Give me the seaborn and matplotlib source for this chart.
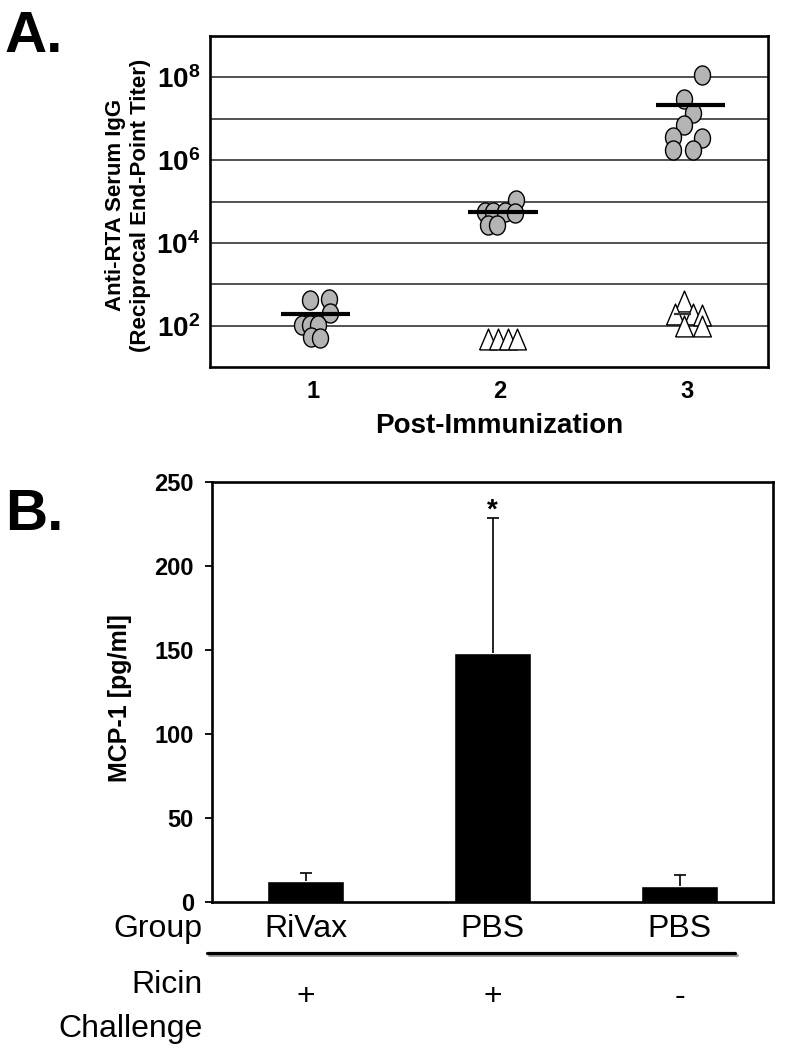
import numpy as np
import pandas as pd
import matplotlib
matplotlib.use('Agg')
import matplotlib.pyplot as plt
import matplotlib.transforms as mtransforms
from matplotlib.lines import Line2D
from matplotlib.ticker import NullLocator
import seaborn as sns

# ---- Panel A: anti-RTA serum IgG titers ----
rivax_titer_1 = [420, 450, 200, 105, 105, 105, 54, 50]
rivax_titer_2 = [110000, 56000, 56000, 56000, 52000, 27000, 27000]
rivax_titer_3 = [1.15e8, 3.0e7, 1.4e7, 7.1e6, 3.6e6, 3.5e6, 1.8e6, 1.8e6]
pbs_titer_2 = [48, 48, 48, 48]
pbs_titer_3 = [400, 195, 195, 180, 100, 100]

# horizontal spread of the symbols inside each column (fraction of one category)
rivax_spread_1 = [-0.016, 0.085, 0.091, -0.059, -0.016, 0.027, -0.011, 0.037]
rivax_spread_2 = [0.085, -0.080, -0.037, 0.027, 0.080, -0.064, -0.016]
rivax_spread_3 = [0.075, -0.021, 0.027, -0.021, -0.075, 0.075, -0.075, 0.027]
pbs_spread_2 = [-0.064, -0.011, 0.043, 0.091]
pbs_spread_3 = [-0.016, -0.064, 0.027, 0.075, -0.016, 0.080]

x_ticks_a = [1, 2, 3]
y_ticks_a = [1e2, 1e3, 1e4, 1e5, 1e6, 1e7, 1e8]
y_ticklabels_a = [r'$\mathbf{10^{2}}$', '', r'$\mathbf{10^{4}}$', '',
                  r'$\mathbf{10^{6}}$', '', r'$\mathbf{10^{8}}$']

# ---- Panel B: MCP-1 ----
group_names = ['RiVax', 'PBS', 'PBS']
ricin_challenge = ['+', '+', '-']
mcp1_mean = [12.7, 148.0, 9.5]
mcp1_err = [4.7, 80.5, 6.4]


def montar_tabela(grupo, titulos, espalhamento, vacina):
    return pd.DataFrame({'grupo': grupo, 'titulo': titulos,
                         'x': [grupo + d for d in espalhamento], 'vacina': vacina})


df_a = pd.concat([
    montar_tabela(1, rivax_titer_1, rivax_spread_1, 'RiVax'),
    montar_tabela(2, rivax_titer_2, rivax_spread_2, 'RiVax'),
    montar_tabela(3, rivax_titer_3, rivax_spread_3, 'RiVax'),
    montar_tabela(2, pbs_titer_2, pbs_spread_2, 'PBS'),
    montar_tabela(3, pbs_titer_3, pbs_spread_3, 'PBS'),
], ignore_index=True)

df_b = pd.DataFrame({'grupo': group_names, 'ricina': ricin_challenge,
                     'mcp1': mcp1_mean, 'erro': mcp1_err})
df_b['condicao'] = df_b['grupo'] + ' ' + df_b['ricina']

# Estilo
sns.set_style('white')
plt.rcParams['font.family'] = ['Liberation Sans', 'DejaVu Sans']
plt.rcParams['mathtext.fontset'] = 'custom'
plt.rcParams['mathtext.rm'] = 'Liberation Sans'
plt.rcParams['mathtext.bf'] = 'Liberation Sans:bold'
plt.rcParams['mathtext.it'] = 'Liberation Sans:italic'
for chave in ['text.color', 'axes.labelcolor', 'xtick.color', 'ytick.color', 'axes.edgecolor']:
    plt.rcParams[chave] = 'black'

fig = plt.figure(figsize=(7.86, 10.5), dpi=100)
W, H = 786, 1050

def caixa(l, t, r, b):
    return [l / W, 1 - b / H, (r - l) / W, (b - t) / H]

# ================= Panel A =================
ax_a = fig.add_axes(caixa(210, 36, 768, 367))

elipse = [(0.84 * np.cos(t), np.sin(t)) for t in np.linspace(0, 2 * np.pi, 60)]
triangulo = [(-0.85, -1.0), (0.85, -1.0), (0.0, 1.0), (-0.85, -1.0)]

sns.scatterplot(data=df_a[df_a['vacina'] == 'PBS'], x='x', y='titulo', ax=ax_a,
                marker=triangulo, s=225, color='white', edgecolor='black',
                linewidth=1.0, legend=False, zorder=3)
sns.scatterplot(data=df_a[df_a['vacina'] == 'RiVax'], x='x', y='titulo', ax=ax_a,
                marker=elipse, s=188, color='#b4b4b4', edgecolor='black',
                linewidth=1.0, legend=False, zorder=4)

# medias (linhas horizontais)
medias = df_a.groupby(['vacina', 'grupo'])['titulo'].mean()
for g in x_ticks_a:
    ax_a.hlines(medias[('RiVax', g)], g - 0.17, g + 0.20, color='black', lw=3.0, zorder=5)
ax_a.hlines(medias[('PBS', 3)], 3 - 0.07, 3 + 0.02, color='#333333', lw=1.6, zorder=3.5)

ax_a.set_yscale('log')
ax_a.set_ylim(10, 1e9)
ax_a.set_xlim(0.45, 3.43)
ax_a.set_yticks(y_ticks_a)
ax_a.set_yticklabels(y_ticklabels_a, fontsize=20)
ax_a.yaxis.set_minor_locator(NullLocator())
ax_a.set_xticks(x_ticks_a)
ax_a.set_xticklabels([str(v) for v in x_ticks_a], fontsize=17, fontweight='bold')
ax_a.tick_params(axis='both', length=0)
ax_a.tick_params(axis='y', pad=7)
ax_a.tick_params(axis='x', pad=9)
ax_a.grid(axis='y', color='#222222', lw=1.1)
ax_a.set_axisbelow(True)
ax_a.set_xlabel('')
ax_a.set_ylabel('')
for sp in ax_a.spines.values():
    sp.set_visible(True)
    sp.set_color('black')
    sp.set_linewidth(1.9)

fig.text(128 / W, 1 - 205 / H, 'Anti-RTA Serum IgG\n(Reciprocal End-Point Titer)',
         rotation=90, ha='center', va='center', fontsize=16, fontweight='bold',
         multialignment='center', linespacing=1.3)
fig.text(499 / W, 1 - 426 / H, 'Post-Immunization', ha='center', va='center',
         fontsize=20, fontweight='bold')
fig.text(5 / W, 1 - 52 / H, 'A.', ha='left', va='baseline', fontsize=42, fontweight='bold')

# ================= Panel B =================
ax_b = fig.add_axes(caixa(212, 482, 773, 902))
sns.barplot(data=df_b, x='condicao', y='mcp1', ax=ax_b, color='black',
            saturation=1, width=0.41, errorbar=None)
_, tampas, _ = ax_b.errorbar(np.arange(len(df_b)), df_b['mcp1'],
                             yerr=[np.zeros(len(df_b)), df_b['erro']], fmt='none',
                             ecolor='black', elinewidth=1.2, capsize=4, capthick=1.2,
                             zorder=1)
tampas[0].set_visible(False)  # so a tampa de cima
ax_b.text(1, df_b['mcp1'][1] + df_b['erro'][1], '*', ha='center', va='baseline',
          fontsize=20, fontweight='bold')

ax_b.set_xlim(-0.5, 2.5)
ax_b.set_ylim(0, 250)
ax_b.set_yticks(range(0, 251, 50))
ax_b.set_yticklabels([str(v) for v in range(0, 251, 50)], fontsize=17, fontweight='bold')
ax_b.set_xticks([])
ax_b.tick_params(axis='y', direction='out', length=5, width=1.3, pad=8, left=True)
ax_b.set_xlabel('')
ax_b.set_ylabel('')
for sp in ax_b.spines.values():
    sp.set_visible(True)
    sp.set_color('black')
    sp.set_linewidth(1.9)

fig.text(120 / W, 1 - 698 / H, 'MCP-1 [pg/ml]', rotation=90, ha='center', va='center',
         fontsize=18, fontweight='bold')
fig.text(5 / W, 1 - 530 / H, 'B.', ha='left', va='baseline', fontsize=42, fontweight='bold')

# tabela abaixo do grafico
mix = mtransforms.blended_transform_factory(ax_b.transData, fig.transFigure)
fig.text(202 / W, 1 - 937 / H, 'Group', ha='right', va='baseline', fontsize=23)
fig.text(203 / W, 1 - 993 / H, 'Ricin', ha='right', va='baseline', fontsize=23)
fig.text(203 / W, 1 - 1037 / H, 'Challenge', ha='right', va='baseline', fontsize=23)
for i, (g, r) in enumerate(zip(group_names, ricin_challenge)):
    ax_b.text(i, 1 - 937 / H, g, transform=mix, ha='center', va='baseline', fontsize=23)
    ax_b.text(i, 1 - 1005 / H, r, transform=mix, ha='center', va='baseline', fontsize=23)

fig.add_artist(Line2D([209 / W, 737 / W], [1 - 955 / H, 1 - 955 / H],
                      color='#9a9a9a', lw=2.0, transform=fig.transFigure))
fig.add_artist(Line2D([207 / W, 735 / W], [1 - 952.5 / H, 1 - 952.5 / H],
                      color='black', lw=2.3, transform=fig.transFigure))

fig.savefig('out.png', dpi=100)
